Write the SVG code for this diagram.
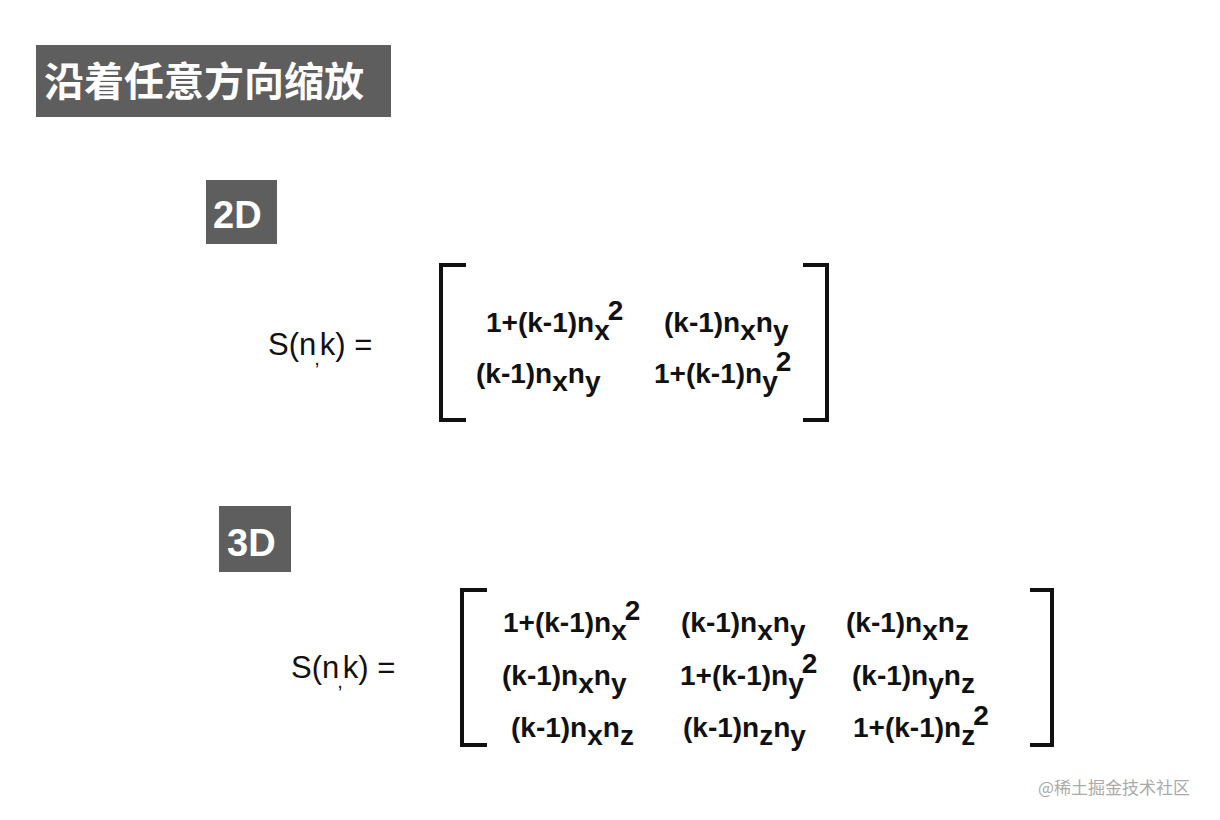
<svg xmlns="http://www.w3.org/2000/svg" width="1220" height="820" viewBox="0 0 1220 820">
<style>
.box{fill:#5e5e5e}
.lbl{font-family:"Liberation Sans","Noto Sans CJK SC",sans-serif;font-weight:bold;fill:#fff}
.m{font-family:"Liberation Sans",sans-serif;font-weight:bold;font-size:28px;fill:#111}
.s{font-family:"Liberation Sans",sans-serif;font-size:31px;fill:#111}
.br{fill:none;stroke:#111;stroke-width:4}
</style>
<rect width="1220" height="820" fill="#fff"/>
<g id="title"><rect class="box" x="36" y="45" width="355" height="72"/><text class="lbl" x="44" y="96" font-size="40">沿着任意方向缩放</text></g>
<g id="label2d"><rect class="box" x="206" y="180" width="71" height="64"/><text class="lbl" x="213" y="228" font-size="38">2D</text></g>
<g id="label3d"><rect class="box" x="219" y="506" width="72" height="66"/><text class="lbl" x="227" y="556" font-size="38">3D</text></g>
<g id="matrix2d">
<text class="s" x="268" y="355">S(n<tspan dx="-2" dy="10" font-size="20">,</tspan><tspan dy="-10">k) =</tspan></text>
<path class="br" d="M466,265 H441 V420 H466"/>
<path class="br" d="M803,265 H827 V420 H803"/>
<text class="m" x="486" y="332">1+(k-1)n<tspan dy="8">x</tspan><tspan dy="-20" dx="-2">2</tspan></text>
<text class="m" x="664" y="332">(k-1)n<tspan dy="8">x</tspan><tspan dy="-8">n</tspan><tspan dy="8">y</tspan></text>
<text class="m" x="476" y="383">(k-1)n<tspan dy="8">x</tspan><tspan dy="-8">n</tspan><tspan dy="8">y</tspan></text>
<text class="m" x="654" y="383">1+(k-1)n<tspan dy="8">y</tspan><tspan dy="-20" dx="-2">2</tspan></text>
</g>
<g id="matrix3d">
<text class="s" x="291" y="678">S(n<tspan dx="-2" dy="10" font-size="20">,</tspan><tspan dy="-10">k) =</tspan></text>
<path class="br" d="M487,590 H462 V745 H487"/>
<path class="br" d="M1030,590 H1052 V745 H1030"/>
<text class="m" x="503" y="632">1+(k-1)n<tspan dy="8">x</tspan><tspan dy="-20" dx="-2">2</tspan></text>
<text class="m" x="681" y="632">(k-1)n<tspan dy="8">x</tspan><tspan dy="-8">n</tspan><tspan dy="8">y</tspan></text>
<text class="m" x="846" y="632">(k-1)n<tspan dy="8">x</tspan><tspan dy="-8">n</tspan><tspan dy="8">z</tspan></text>
<text class="m" x="502" y="685">(k-1)n<tspan dy="8">x</tspan><tspan dy="-8">n</tspan><tspan dy="8">y</tspan></text>
<text class="m" x="680" y="685">1+(k-1)n<tspan dy="8">y</tspan><tspan dy="-20" dx="-2">2</tspan></text>
<text class="m" x="852" y="685">(k-1)n<tspan dy="8">y</tspan><tspan dy="-8">n</tspan><tspan dy="8">z</tspan></text>
<text class="m" x="511" y="737">(k-1)n<tspan dy="8">x</tspan><tspan dy="-8">n</tspan><tspan dy="8">z</tspan></text>
<text class="m" x="683" y="737">(k-1)n<tspan dy="8">z</tspan><tspan dy="-8">n</tspan><tspan dy="8">y</tspan></text>
<text class="m" x="853" y="737">1+(k-1)n<tspan dy="8">z</tspan><tspan dy="-20" dx="-2">2</tspan></text>
</g>
<text x="1038" y="794" font-family="'Noto Sans CJK SC',sans-serif" font-size="17" fill="#aaa">@稀土掘金技术社区</text>
</svg>
